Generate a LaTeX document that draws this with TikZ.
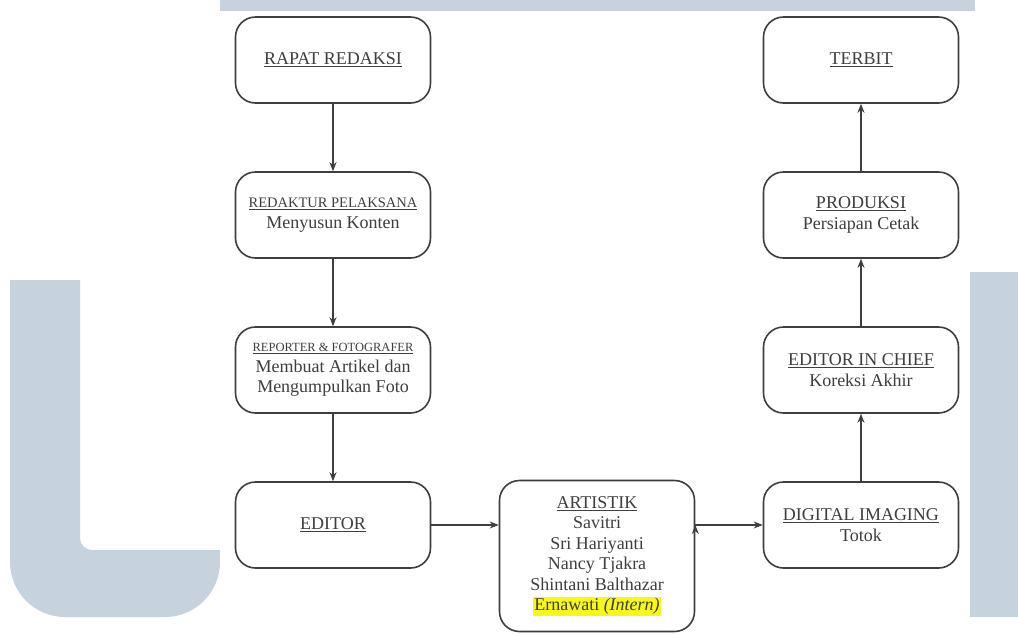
\documentclass[tikz,border=0pt]{standalone}
\usepackage{fontspec}
\setmainfont{Liberation Serif}
\usetikzlibrary{positioning, arrows.meta}

\definecolor{wmark}{RGB}{199,210,223}
\definecolor{inkgray}{RGB}{62,62,62}
\definecolor{hilite}{RGB}{248,248,24}

\tikzset{
  box/.style={draw=inkgray, line width=1.6pt, rounded corners=20pt,
    minimum width=195pt, minimum height=86pt, align=center, inner sep=2pt,
    text=inkgray, font=\rmfamily\fontsize{18}{20.5}\selectfont},
  flow/.style={draw=inkgray, line width=1.3pt, -{Stealth[length=9pt,width=7pt]}}
}
\newcommand{\smalltitle}[2]{{\fontsize{#1}{#1}\selectfont\underline{#2}}}

\begin{document}
\begin{tikzpicture}[x=1pt,y=-1pt,node distance=155pt,on grid]
  \useasboundingbox (0,0) rectangle (1018,633);
  % faded watermark behind the chart
  \fill[wmark] (220,0) rectangle (975,11);
  \fill[wmark] (10,280) [rounded corners=55pt]-- (10,617) -- (220,617)
    [sharp corners]-- (220,550) [rounded corners=12pt]-- (80,550)
    [sharp corners]-- (80,280) -- cycle;
  \fill[wmark] (970,272) rectangle (1018,617);
  \fill[white] (220,11) rectangle (970,633);

  \node[box] (rapat) at (333,60) {\underline{RAPAT REDAKSI}};
  \node[box] (redaktur) [below=of rapat]
    {\smalltitle{14.5}{REDAKTUR PELAKSANA}\\Menyusun Konten};
  \node[box] (reporter) [below=of redaktur]
    {\smalltitle{12.5}{REPORTER \& FOTOGRAFER}\\Membuat Artikel dan\\Mengumpulkan Foto};
  \node[box] (editor) [below=of reporter] {\underline{EDITOR}};
  \node[box, minimum height=151pt] (artistik) [right=264pt of editor, yshift=-31pt]
    {\underline{ARTISTIK}\\Savitri\\Sri Hariyanti\\Nancy Tjakra\\Shintani Balthazar\\
     {\fboxsep=1pt\colorbox{hilite}{Ernawati \textit{(Intern)}}}};
  \node[box] (digital) [right=528pt of editor] {\underline{DIGITAL IMAGING}\\Totok};
  \node[box] (chief) [above=of digital] {\underline{EDITOR IN CHIEF}\\Koreksi Akhir};
  \node[box] (produksi) [above=of chief] {\underline{PRODUKSI}\\Persiapan Cetak};
  \node[box] (terbit) [above=of produksi] {\underline{TERBIT}};

  \path[flow]
    (rapat) edge (redaktur)
    (redaktur) edge (reporter)
    (reporter) edge (editor)
    (editor.east) edge (editor.east -| artistik.west)
    (digital.west -| artistik.east) edge (digital.west)
    (digital) edge (chief)
    (chief) edge (produksi)
    (produksi) edge (terbit);
\end{tikzpicture}
\end{document}
